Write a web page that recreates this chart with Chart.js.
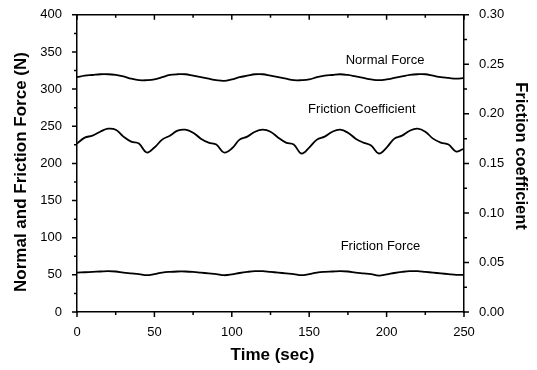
<!DOCTYPE html>
<html>
<head>
<meta charset="utf-8">
<script src="https://cdn.jsdelivr.net/npm/chart.js@4/dist/chart.umd.min.js"></script>
<style>
  html, body { margin: 0; padding: 0; background: #fff; }
  #wrap { width: 537px; height: 370px; }
</style>
</head>
<body>
<div id="wrap"><canvas id="chart"></canvas></div>
<script>
// time axis (sec)
var timeSec = [0, 5, 10, 15, 20, 25, 30, 35, 40, 45, 50, 55, 60, 65, 70, 75, 80, 85, 90, 95,
  100, 105, 110, 115, 120, 125, 130, 135, 140, 145, 150, 155, 160, 165, 170, 175, 180, 185, 190, 195,
  200, 205, 210, 215, 220, 225, 230, 235, 240, 245, 250];

// normal force (N), left axis
var normalForce = [316, 318, 319, 320, 320, 319, 317, 314, 312, 312, 313, 316, 319, 320, 320, 318, 316, 314, 312, 311,
  313, 316, 318, 320, 320, 318, 316, 314, 312, 312, 313, 316, 318, 319, 320, 319, 317, 315, 313, 312,
  313, 315, 317, 319, 320, 320, 318, 316, 315, 314, 315];

// friction coefficient, right axis
var frictionCoef = [0.170, 0.176, 0.178, 0.182, 0.185, 0.184, 0.177, 0.172, 0.170, 0.161, 0.166,
  0.174, 0.178, 0.183, 0.184, 0.181, 0.175, 0.171, 0.169, 0.161, 0.165,
  0.174, 0.177, 0.182, 0.184, 0.182, 0.176, 0.171, 0.169, 0.160, 0.166,
  0.174, 0.177, 0.182, 0.184, 0.181, 0.175, 0.171, 0.168, 0.160, 0.166,
  0.175, 0.178, 0.183, 0.185, 0.182, 0.175, 0.171, 0.169, 0.162, 0.165];

// friction force (N), left axis
var frictionForce = [53, 53.5, 54, 54.5, 55, 54.5, 53, 52, 51, 49.5, 51, 53, 54, 54.5, 54.5, 54, 53, 52, 51, 49.5,
  50.5, 52.5, 54, 55, 55, 54, 53, 52, 51, 49.5, 51, 53, 54, 54.5, 55, 54.5, 53, 52, 51, 49,
  50.5, 52.5, 54, 55, 55, 54, 53, 52, 51, 50, 50];

// curve labels, placed in data coordinates
var curveLabels = [
  { text: 'Normal Force', t: 199, v: 339 },
  { text: 'Friction Coefficient', t: 184, v: 272 },
  { text: 'Friction Force', t: 196, v: 88 }
];

// axis titles
var xTitle = 'Time (sec)';
var yTitle = 'Normal and Friction Force (N)';
var y2Title = 'Friction coefficient';

var fontFam = '"Liberation Sans", Arial, sans-serif';

function toPoints(xs, ys) {
  var pts = [];
  for (var i = 0; i < xs.length; i++) {
    pts.push({ x: xs[i], y: ys[i] });
  }
  return pts;
}

// draws major/minor tick marks, the top frame line, curve labels and axis titles
var frameTicks = {
  id: 'frameTicks',
  afterDraw: function(chart) {
    var ctx = chart.ctx;
    var a = chart.chartArea;
    var sx = chart.scales.x, sy = chart.scales.y, sy2 = chart.scales.y2;
    var v;
    ctx.save();
    ctx.strokeStyle = '#000';
    ctx.lineWidth = 1.5;
    ctx.beginPath();
    // top frame
    ctx.moveTo(a.left, a.top);
    ctx.lineTo(a.right, a.top);
    // x ticks: bottom outward, top inward
    for (v = 0; v <= 250; v += 25) {
      var px = sx.getPixelForValue(v);
      var len = (v % 50 === 0) ? 5 : 3;
      ctx.moveTo(px, a.bottom);
      ctx.lineTo(px, a.bottom + len);
      ctx.moveTo(px, a.top);
      ctx.lineTo(px, a.top + len);
    }
    // left y ticks outward
    for (v = 0; v <= 400; v += 25) {
      var py = sy.getPixelForValue(v);
      var l2 = (v % 50 === 0) ? 5 : 3;
      ctx.moveTo(a.left, py);
      ctx.lineTo(a.left - l2, py);
    }
    // right y ticks outward
    for (v = 0; v <= 12; v += 1) {
      var py2 = sy2.getPixelForValue(v * 0.025);
      var l3 = (v % 2 === 0) ? 5 : 3;
      ctx.moveTo(a.right, py2);
      ctx.lineTo(a.right + l3, py2);
    }
    ctx.stroke();

    ctx.fillStyle = '#000';
    ctx.font = '13px ' + fontFam;
    ctx.textAlign = 'center';
    ctx.textBaseline = 'middle';
    curveLabels.forEach(function(c) {
      ctx.fillText(c.text, sx.getPixelForValue(c.t), sy.getPixelForValue(c.v));
    });

    // axis titles
    ctx.font = 'bold 17px ' + fontFam;
    ctx.fillText(xTitle, (a.left + a.right) / 2 + 2, 355);

    ctx.save();
    ctx.translate(21, 172);
    ctx.rotate(-Math.PI / 2);
    ctx.font = 'bold 17px ' + fontFam;
    ctx.fillText(yTitle, 0, 0);
    ctx.restore();

    ctx.save();
    ctx.translate(521, 156);
    ctx.rotate(Math.PI / 2);
    ctx.font = 'bold 16.5px ' + fontFam;
    ctx.fillText(y2Title, 0, 0);
    ctx.restore();

    ctx.restore();
  }
};

var lineStyle = {
  borderColor: '#000',
  borderWidth: 1.8,
  pointRadius: 0,
  tension: 0.4,
  fill: false
};

new Chart(document.getElementById('chart'), {
  type: 'line',
  data: {
    datasets: [
      Object.assign({ label: 'Normal Force', data: toPoints(timeSec, normalForce), yAxisID: 'y' }, lineStyle),
      Object.assign({ label: 'Friction Coefficient', data: toPoints(timeSec, frictionCoef), yAxisID: 'y2' }, lineStyle),
      Object.assign({ label: 'Friction Force', data: toPoints(timeSec, frictionForce), yAxisID: 'y' }, lineStyle)
    ]
  },
  options: {
    responsive: true,
    maintainAspectRatio: false,
    animation: false,
    layout: { padding: { top: 9, left: 0, right: 0, bottom: 0 } },
    plugins: {
      legend: { display: false },
      tooltip: { enabled: false }
    },
    scales: {
      x: {
        type: 'linear',
        min: 0,
        max: 250,
        grid: { display: false },
        border: { display: true, color: '#000', width: 1.5 },
        ticks: { stepSize: 50, color: '#000', padding: 5, font: { family: fontFam, size: 13 } },
        afterFit: function(s) { s.height = 58; }
      },
      y: {
        position: 'left',
        min: 0,
        max: 400,
        grid: { display: false },
        border: { display: true, color: '#000', width: 1.5 },
        ticks: { stepSize: 50, color: '#000', padding: 7, font: { family: fontFam, size: 13 } },
        afterFit: function(s) { s.width = 77; }
      },
      y2: {
        position: 'right',
        min: 0,
        max: 0.3,
        grid: { display: false },
        border: { display: true, color: '#000', width: 1.5 },
        ticks: { stepSize: 0.05, color: '#000', padding: 7, font: { family: fontFam, size: 13 },
          callback: function(v) { return v.toFixed(2); } },
        afterFit: function(s) { s.width = 73; }
      }
    }
  },
  plugins: [frameTicks]
});
</script>
</body>
</html>
